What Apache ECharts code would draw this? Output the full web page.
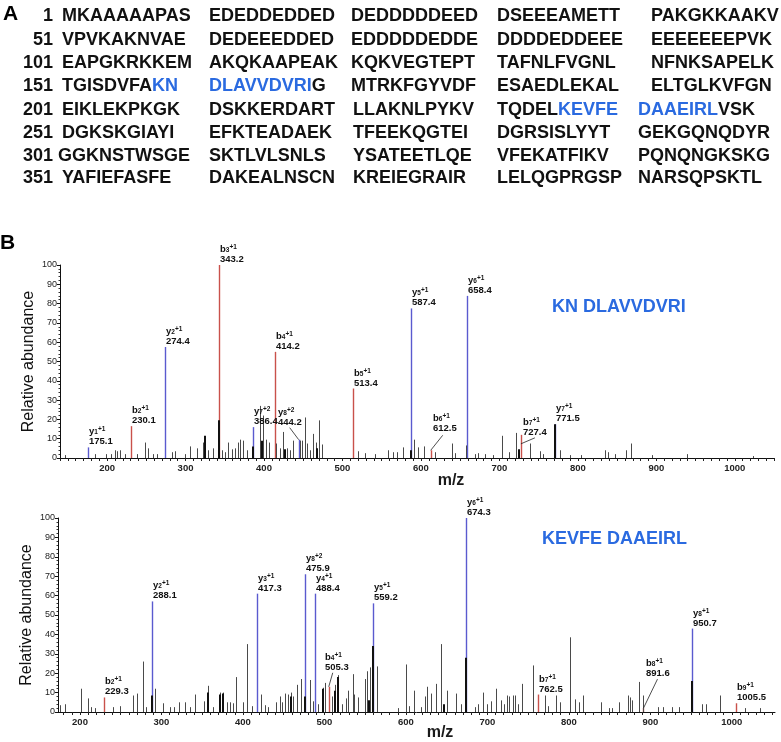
<!DOCTYPE html>
<html><head><meta charset="utf-8">
<script src="https://cdn.jsdelivr.net/npm/echarts@6/dist/echarts.min.js"></script>
<style>html,body{margin:0;padding:0;background:#fff}#c{width:781px;height:742px}</style>
</head><body><div id="c"></div>
<script>
// ---------- Panel A: protein sequence ----------
const seqStarts = [1, 51, 101, 151, 201, 251, 301, 351];
const seqGroups = [
  ["MKAAAAAPAS", "EDEDDEDDED", "DEDDDDDEED", "DSEEEAMETT", "PAKGKKAAKV"],
  ["VPVKAKNVAE", "DEDEEEDDED", "EDDDDDEDDE", "DDDDEDDEEE", "EEEEEEEPVK"],
  ["EAPGKRKKEM", "AKQKAAPEAK", "KQKVEGTEPT", "TAFNLFVGNL", "NFNKSAPELK"],
  ["TGISDVFA[KN]", "[DLAVVDVRI]G", "MTRKFGYVDF", "ESAEDLEKAL", "ELTGLKVFGN"],
  ["EIKLEKPKGK", "DSKKERDART", "LLAKNLPYKV", "TQDEL[KEVFE]", "[DAAEIRL]VSK"],
  ["DGKSKGIAYI", "EFKTEADAEK", "TFEEKQGTEI", "DGRSISLYYT", "GEKGQNQDYR"],
  ["GGKNSTWSGE", "SKTLVLSNLS", "YSATEETLQE", "VFEKATFIKV", "PQNQNGKSKG"],
  ["YAFIEFASFE", "DAKEALNSCN", "KREIEGRAIR", "LELQGPRGSP", "NARSQPSKTL"]
];
const peptideTop = "KN DLAVVDVRI";
const peptideBottom = "KEVFE DAAEIRL";

// ---------- Panel B top spectrum (KN DLAVVDVRI) ----------
const topIonMz     = [175.1, 230.1, 274.4, 343.2, 386.4, 414.2, 444.2, 513.4, 587.4, 612.5, 658.4, 727.4, 771.5];
const topIonInt    = [5.5, 16.5, 57.5, 100, 16, 55, 9.5, 36, 77.5, 4, 84, 12, 17.5];
const topIonType   = ['y','b','y','b','y','b','y','b','y','b','y','b','y'];
const topIonNum    = [1, 2, 2, 3, 7, 4, 8, 5, 5, 6, 6, 7, 7];
const topIonCharge = [1, 1, 1, 1, 2, 1, 2, 1, 1, 1, 1, 1, 1];
const topNoise = [[146,1.5],[185,2],[199,2],[205,2],[210,4],[213,3.5],[216,4],[223,2],[238,2],[248,8],
  [252,5],[259,2],[263,2],[283,3],[287,3.5],[299,2],[306,6],[315,5],[322,8],[329,4],
  [335,5],[346,4],[350,3],[354,8],[359,4.5],[363,5],[367,8],[370,9.5],[373,9],[378,4],
  [395,27],[399,22],[403,9.5],[406,8],[415,7.5],[420,5],[424,13.5],[429,5],[433,4],[437,9],
  [446,9],[448,9],[452,21],[455,7.5],[459,4],[463,12.5],[466,8],[470,19.5],[474,7],[520,3.5],
  [529,2.5],[541,2],[558,4],[565,3],[569,3],[577,5.5],[591,9.5],[596,5.5],[604,6],[618,3],
  [640,7.5],[644,2.5],[657,6.5],[669,2],[673,2.5],[682,2],[692,1.5],[703,11.5],[712,3],[721,13],
  [739,7.5],[752,3.5],[755,2],[777,4],[790,1.5],[804,1.5],[834,4],[838,3],[847,2],[861,4],
  [868,7.5],[895,1.5],[939,2],[1023,1]];
const topNoiseDark = [[325,11.5],[343.2,19.5],[386,6],[398,9],[427,4.5],[467,5],[587.4,4],[725,4.5],[771.5,17.5]];

// ---------- Panel B bottom spectrum (KEVFE DAAEIRL) ----------
const botIonMz     = [229.3, 288.1, 417.3, 475.9, 488.4, 505.3, 559.2, 674.3, 762.5, 891.6, 950.7, 1005.5];
const botIonInt    = [7.5, 57, 61, 71, 61, 13, 56, 100, 9, 2, 43, 4.5];
const botIonType   = ['b','y','y','y','y','b','y','y','b','b','y','b'];
const botIonNum    = [2, 2, 3, 8, 4, 4, 5, 6, 7, 8, 8, 9];
const botIonCharge = [1, 1, 1, 2, 1, 1, 1, 1, 1, 1, 1, 1];
const botNoise = [[175,3.5],[182,4],[201,12],[210,7],[214,2.5],[218,2],[241,2.5],[249,3],[265,8.5],[270,9.5],
  [277,26],[281,2.5],[292,12],[302,4.5],[310,2.5],[315,2.5],[321,5],[329,5],[335,2.5],[341,9],
  [352,5.5],[357,13.5],[363,2.5],[372,10],[375,10],[380,5],[384,5],[388,4.5],[392,18],[400,5],
  [405,35],[411,3],[422,9],[427,3.5],[431,2.5],[440,5],[445,8],[448,5],[452,9.5],[455,9],
  [459,10],[462,8],[466,14],[471,17],[482,16.5],[486,5.5],[492,4],[498,12.5],[501,15],[509,8],
  [513,14],[517,19],[521,4],[527,7],[529,11],[535,19.5],[536,9],[541,7.5],[550,17],[552,21],
  [556,23],[564,23.5],[590,2],[600,24.5],[604,3],[610,11],[619,2.5],[623,8],[626,13],[631,9.5],
  [637,14.5],[643,35],[650,11],[661,9.5],[668,4],[685,2.5],[689,4],[695,10],[700,4],[705,5.5],
  [710,12],[717,6],[721,4],[724,8.5],[727,8],[731,8.5],[734,8.5],[737,4],[742,14.5],[756,24],
  [771,8.5],[774,3],[784,8.5],[789,5],[802,38.5],[808,6.5],[812,5],[817,8.5],[839,5],[849,2],
  [853,2],[862,5],[872,8.5],[875,7.5],[877,6],[886,15.5],[891,8.5],[909,2.5],[915,2.5],[927,2.5],
  [935,2.5],[964,4],[968,4],[986,8.5],[1016,2],[1035,2]];
const botNoiseDark = [[288.1,8.5],[357,10],[372,9],[376,9.5],[459,8],[476,8],[498,12],[513,11],[517,18],
  [555,6],[559.2,34],[647,4],[674.3,28],[950.7,16]];

const xTickLabels = [200, 300, 400, 500, 600, 700, 800, 900, 1000];
const yTickInterval = 10;

// ---------- layout / style (not data) ----------
const FONT = '"Liberation Sans", Arial, sans-serif';
const SEQ_BLUE = '#2a6ae0';
const ION_COLOR = { y: '#5a5acf', b: '#c9514b' };
const rowY = [16, 40, 63, 86, 110, 133, 156, 178];
const colXUpper = [62, 209, 351, 497, 651];
const colXLower = [62, 209, 353, 497, 638];
// label placements for labels with leader lines (px relative to peak top)
const topLabelLayout = {
  6:  { dx: -21, dy: -13, lead: [-9, -12, 0, 0] },
  9:  { dx: 2,   dy: -17, lead: [12, -15, 0, 0] },
  11: { dx: 2,   dy: 2,   lead: [14, 3, 0, 9] }
};
const botLabelLayout = {
  5: { dx: -4, dy: -15, lead: [4, -14, 0, 0] },
  9: { dx: 3,  dy: -30, lead: [14, -29, 0, 0] }
};

// ---------- graphic texts ----------
const graphics = [];
graphics.push({ type: 'text', x: 3, y: 14, style: { text: 'A', font: 'bold 21px ' + FONT, fill: '#000', verticalAlign: 'middle' } });
graphics.push({ type: 'text', x: 0, y: 243, style: { text: 'B', font: 'bold 21px ' + FONT, fill: '#000', verticalAlign: 'middle' } });
const seqRich = { h: { font: 'bold 18px ' + FONT, fill: SEQ_BLUE } };
seqStarts.forEach((s, r) => {
  graphics.push({ type: 'text', x: 53, y: rowY[r], style: { text: String(s), font: 'bold 18px ' + FONT, fill: '#111', align: 'right', verticalAlign: 'middle' } });
  const cols = r < 4 ? colXUpper : colXLower;
  seqGroups[r].forEach((g, c) => {
    const txt = g.replace(/\[([A-Z]+)\]/g, '{h|$1}');
    let x = cols[c];
    if (r === 6 && c === 0) x = 58;
    graphics.push({ type: 'text', x: x, y: rowY[r], style: { text: txt, rich: seqRich, font: 'bold 18px ' + FONT, fill: '#111', align: 'left', verticalAlign: 'middle' } });
  });
});
graphics.push({ type: 'text', x: 552, y: 307, style: { text: peptideTop, font: 'bold 18px ' + FONT, fill: SEQ_BLUE, verticalAlign: 'middle' } });
graphics.push({ type: 'text', x: 542, y: 539, style: { text: peptideBottom, font: 'bold 18px ' + FONT, fill: SEQ_BLUE, verticalAlign: 'middle' } });
graphics.push({ type: 'text', x: 451, y: 481, style: { text: 'm/z', font: 'bold 16px ' + FONT, fill: '#1a1a1a', align: 'center', verticalAlign: 'middle' } });
graphics.push({ type: 'text', x: 440, y: 733, style: { text: 'm/z', font: 'bold 16px ' + FONT, fill: '#1a1a1a', align: 'center', verticalAlign: 'middle' } });

// ---------- series builders ----------
function sticks(ax, pts, color, width, z) {
  return {
    type: 'custom', xAxisIndex: ax, yAxisIndex: ax, silent: true, clip: true, z: z,
    data: pts,
    renderItem: (params, api) => {
      const a = api.coord([api.value(0), 0]);
      const b = api.coord([api.value(0), api.value(1)]);
      const x = Math.round(a[0]) + (width % 2 ? 0.5 : 0);
      return { type: 'line', shape: { x1: x, y1: a[1], x2: x, y2: b[1] }, style: { stroke: color, lineWidth: width } };
    }
  };
}
const labRich = {
  i: { fontSize: 9.5, fontWeight: 'bold', fontFamily: FONT, fill: '#111', lineHeight: 10 },
  s: { fontSize: 6.5, fontWeight: 'bold', fontFamily: FONT, fill: '#111', verticalAlign: 'bottom', lineHeight: 6 },
  p: { fontSize: 6.5, fontWeight: 'bold', fontFamily: FONT, fill: '#111', verticalAlign: 'top', lineHeight: 6 },
  v: { fontSize: 9.5, fontWeight: 'bold', fontFamily: FONT, fill: '#111', lineHeight: 10 }
};
function ionLabels(ax, mz, it, type, num, charge, layout) {
  return {
    type: 'custom', xAxisIndex: ax, yAxisIndex: ax, silent: true, clip: false, z: 5,
    data: mz.map((m, i) => [m, it[i]]),
    renderItem: (params, api) => {
      const i = params.dataIndex;
      const top = api.coord([api.value(0), api.value(1)]);
      const L = layout[i] || { dx: 1, dy: -1 };
      const txt = '{i|' + type[i] + '}{s|' + num[i] + '}{p|+' + charge[i] + '}\n{v|' + mz[i].toFixed(1) + '}';
      const children = [{
        type: 'text', x: Math.round(top[0] + L.dx), y: Math.round(top[1] + L.dy),
        style: { text: txt, rich: labRich, fill: '#111', align: 'left', verticalAlign: 'bottom' }
      }];
      if (L.lead) {
        children.push({ type: 'line', shape: { x1: top[0] + L.lead[0], y1: top[1] + L.lead[1], x2: top[0] + L.lead[2], y2: top[1] + L.lead[3] },
          style: { stroke: '#222', lineWidth: 0.8 } });
      }
      return { type: 'group', children: children };
    }
  };
}
function ionSticks(ax, mz, it, type) {
  const out = [];
  ['y', 'b'].forEach(t => {
    const pts = [];
    mz.forEach((m, i) => { if (type[i] === t) pts.push([m, it[i]]); });
    out.push(sticks(ax, pts, ION_COLOR[t], 1.4, 1));
  });
  return out;
}
function tickVals(a, b) { const r = []; for (let v = a; v <= b; v += 10) r.push(v); return r; }

function yAxisCfg(g) {
  return {
    gridIndex: g, type: 'value', min: 0, max: 100, interval: yTickInterval,
    axisLine: { show: true, lineStyle: { color: '#111', width: 1 } },
    axisTick: { show: true, length: 3, lineStyle: { color: '#111' } },
    minorTick: { show: true, splitNumber: 5, length: 1.5, lineStyle: { color: '#333' } },
    splitLine: { show: false },
    axisLabel: { fontSize: 9, margin: 3, color: '#222', fontFamily: FONT },
    name: 'Relative abundance', nameLocation: 'middle', nameGap: 23, nameMoveOverlap: false,
    nameTextStyle: { fontSize: 16, color: '#111', fontFamily: FONT }
  };
}
function xAxisCfg(g, mn, mx) {
  return {
    gridIndex: g, type: 'value', min: mn, max: mx,
    axisLine: { show: true, onZero: false, lineStyle: { color: '#111', width: 1 } },
    axisTick: { show: true, length: 3, customValues: tickVals(Math.ceil(mn / 10) * 10, mx), lineStyle: { color: '#222' } },
    splitLine: { show: false },
    axisLabel: { customValues: xTickLabels, formatter: v => String(v), fontSize: 9.5, margin: 5, color: '#222', fontWeight: 'bold', fontFamily: FONT }
  };
}

const chart = echarts.init(document.getElementById('c'), null, { renderer: 'canvas' });
chart.setOption({
  animation: false,
  backgroundColor: '#fff',
  grid: [
    { left: 60, width: 714, top: 265, height: 193 },
    { left: 58, width: 717, top: 518, height: 194 }
  ],
  xAxis: [xAxisCfg(0, 140, 1050), xAxisCfg(1, 173, 1053)],
  yAxis: [yAxisCfg(0), yAxisCfg(1)],
  graphic: { elements: graphics },
  series: [
    ...ionSticks(0, topIonMz, topIonInt, topIonType),
    sticks(0, topNoise, '#4a4a4a', 1, 2),
    sticks(0, topNoiseDark, '#111', 2, 3),
    ionLabels(0, topIonMz, topIonInt, topIonType, topIonNum, topIonCharge, topLabelLayout),
    ...ionSticks(1, botIonMz, botIonInt, botIonType),
    sticks(1, botNoise, '#4a4a4a', 1, 2),
    sticks(1, botNoiseDark, '#111', 2, 3),
    ionLabels(1, botIonMz, botIonInt, botIonType, botIonNum, botIonCharge, botLabelLayout)
  ]
});
</script></body></html>
